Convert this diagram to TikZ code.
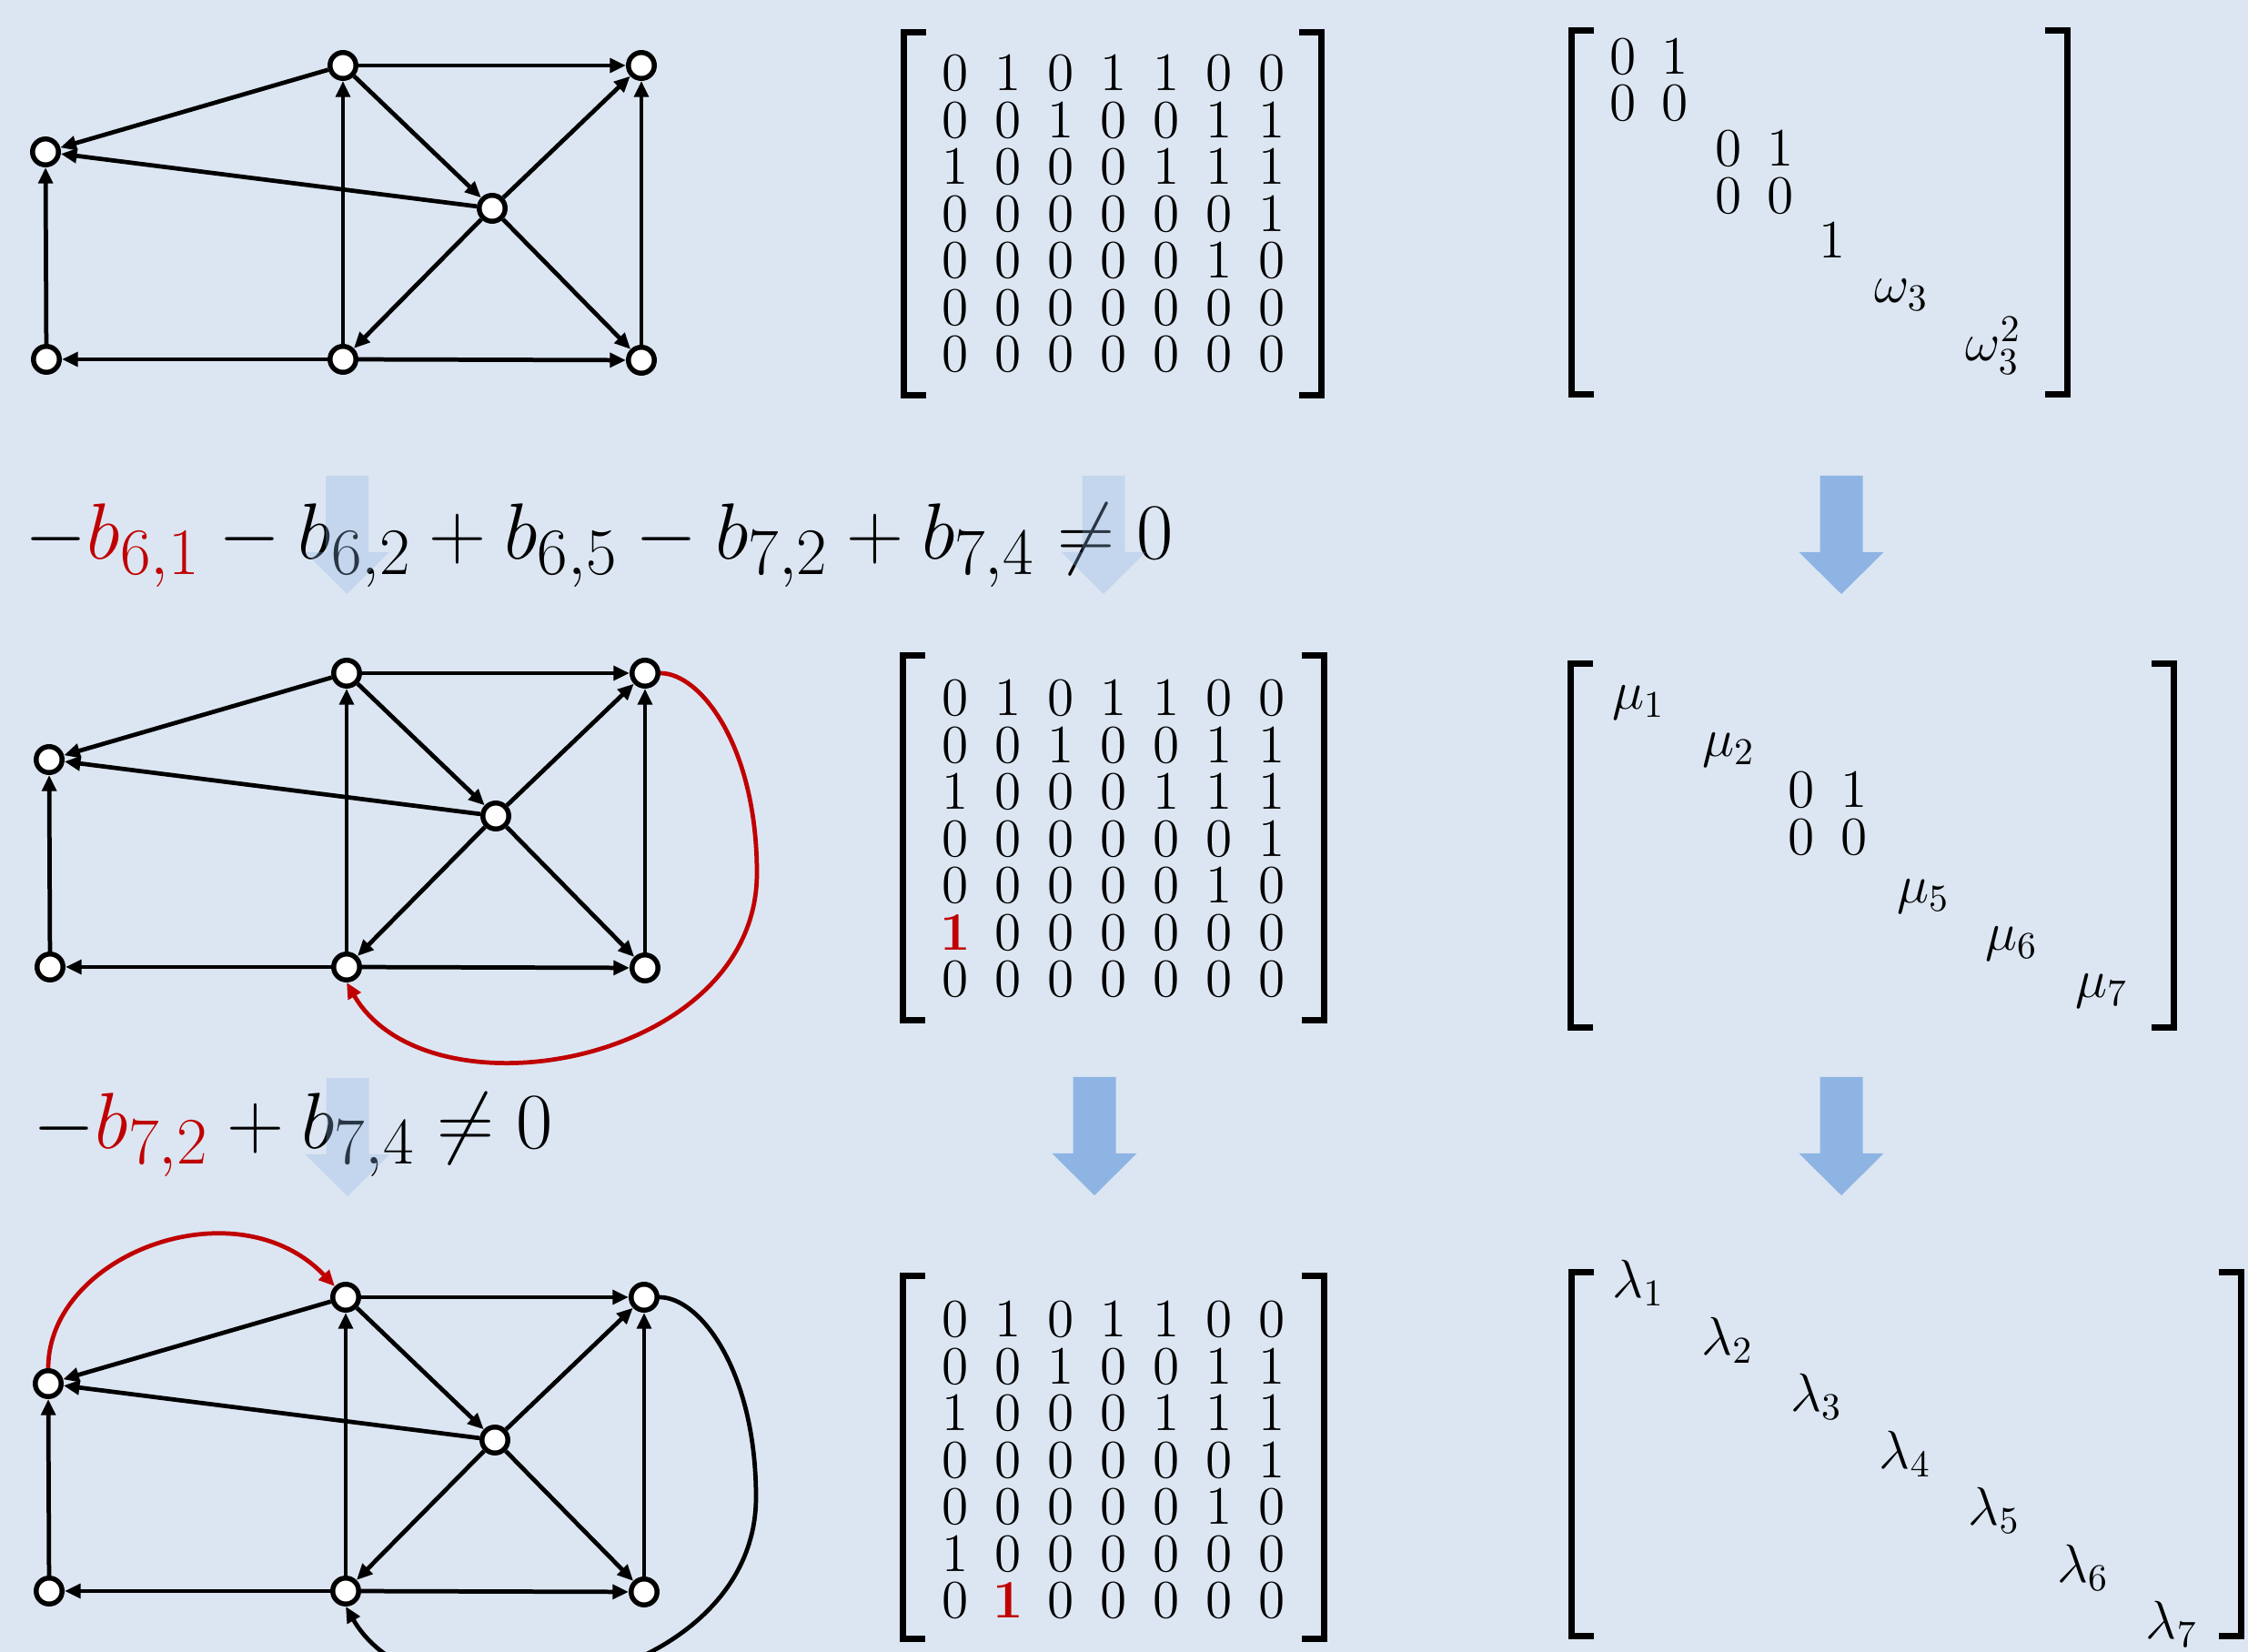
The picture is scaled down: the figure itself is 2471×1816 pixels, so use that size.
\RequirePackage{fix-cm}
\documentclass[tikz,border=0pt]{standalone}
\usepackage{amsmath}
\usepackage{tikz}
\usetikzlibrary{arrows.meta}
\definecolor{paleblue}{HTML}{DCE6F2}
\definecolor{stepblue}{HTML}{8EB4E3}
\definecolor{darkred}{HTML}{C00000}
\newcommand{\rone}{{\color{darkred}\mathbf{1}}}
% square brackets: outer left x, outer right x, top y, bottom y
\newcommand{\brak}[4]{%
  \draw[brk] (#1+28,#3+3.75) -- (#1+3.75,#3+3.75) -- (#1+3.75,#4-3.75) -- (#1+28,#4-3.75);
  \draw[brk] (#2-28,#3+3.75) -- (#2-3.75,#3+3.75) -- (#2-3.75,#4-3.75) -- (#2-28,#4-3.75);}
% block arrow: centre x, top y
\newcommand{\bigarrow}[3][]{%
  \fill[stepblue,#1] (#2-23.5,#3) -- (#2+23.5,#3) -- (#2+23.5,#3+84) -- (#2+46.5,#3+84)
    -- (#2,#3+130) -- (#2-46.5,#3+84) -- (#2-23.5,#3+84) -- cycle;}

\begin{document}
\begin{tikzpicture}[x=0.01cm,y=-0.01cm,
    vtx/.style={circle,draw,fill=white,line width=1.55pt,minimum size=0.285cm,inner sep=0pt},
    diredge/.style={-{Triangle[length=5pt,width=4.4pt]},line width=1.35pt},
    brk/.style={line width=2.1pt},
    ent/.style={inner sep=0pt,anchor=base,font=\fontsize{16.9}{20}\selectfont},
    eqn/.style={inner sep=0pt,anchor=base west,font=\fontsize{24.88}{30}\selectfont}]
  \useasboundingbox (0,0) rectangle (2471,1816);
  \fill[paleblue] (0,0) rectangle (2471,1816);
  \clip (0,0) rectangle (2471,1816);

  % the three graphs
  \foreach \g/\gx/\gy in {1/377/72,2/381/740,3/380/1426} {
    \begin{scope}[shift={(\gx,\gy)}]
      \node[vtx] (g\g a) at (0,0) {};
      \node[vtx] (g\g b) at (328,0) {};
      \node[vtx] (g\g c) at (-327,95) {};
      \node[vtx] (g\g d) at (164,157) {};
      \node[vtx] (g\g e) at (-326,323) {};
      \node[vtx] (g\g f) at (0,323) {};
      \node[vtx] (g\g g) at (328,324) {};
      \coordinate (g\g r) at (451,220);
    \end{scope}
    \foreach \s/\t in {a/b,a/c,a/d,d/c,d/b,d/f,d/g,f/a,g/b,e/c,f/e,f/g}
      \draw[diredge] (g\g\s) -- (g\g\t);
  }
  \draw[diredge,darkred] (g2b.east) .. controls +(44,0) and +(0,-140) .. (g2r)
    .. controls +(0,210) and +(89,154) .. (g2f.south);
  \draw[diredge] (g3b.east) .. controls +(44,0) and +(0,-140) .. (g3r)
    .. controls +(0,210) and +(89,154) .. (g3f.south);
  \draw[diredge,darkred] (g3c.north) .. controls +(0,-125) and +(-108,-113) .. (g3a.north west);

  % adjacency matrices
  \foreach \row [count=\i] in {{0,1,0,1,1,0,0},{0,0,1,0,0,1,1},{1,0,0,0,1,1,1},
      {0,0,0,0,0,0,1},{0,0,0,0,0,1,0},{0,0,0,0,0,0,0},{0,0,0,0,0,0,0}}
    \foreach \v [count=\j] in \row
      \node[ent] (adja-\i-\j) at (992+58*\j,48.5+51.5*\i) {$\v$};
  \foreach \row [count=\i] in {{0,1,0,1,1,0,0},{0,0,1,0,0,1,1},{1,0,0,0,1,1,1},
      {0,0,0,0,0,0,1},{0,0,0,0,0,1,0},{\rone,0,0,0,0,0,0},{0,0,0,0,0,0,0}}
    \foreach \v [count=\j] in \row
      \node[ent] (adjb-\i-\j) at (992+58*\j,735.5+51.5*\i) {$\v$};
  \foreach \row [count=\i] in {{0,1,0,1,1,0,0},{0,0,1,0,0,1,1},{1,0,0,0,1,1,1},
      {0,0,0,0,0,0,1},{0,0,0,0,0,1,0},{1,0,0,0,0,0,0},{0,\rone,0,0,0,0,0}}
    \foreach \v [count=\j] in \row
      \node[ent] (adjc-\i-\j) at (992+58*\j,1418.5+51.5*\i) {$\v$};
  \brak{990}{1456}{32}{438}
  \brak{989}{1459}{717}{1125}
  \brak{989}{1459}{1399}{1805}

  % Jordan forms
  \node[ent] (om-1-1) at (1784,82) {$0$};
  \node[ent] (om-1-2) at (1841,82) {$1$};
  \node[ent] (om-2-1) at (1784,133) {$0$};
  \node[ent] (om-2-2) at (1841,133) {$0$};
  \node[ent] (om-3-3) at (1900,183) {$0$};
  \node[ent] (om-3-4) at (1957,183) {$1$};
  \node[ent] (om-4-3) at (1900,235) {$0$};
  \node[ent] (om-4-4) at (1957,235) {$0$};
  \node[ent] (om-5-5) at (2014,284) {$1$};
  \node[ent] (om-6-6) at (2090,333) {$\omega_3$};
  \node[ent] (om-7-7) at (2191,397) {$\omega_3^2$};
  \brak{1724}{2276}{30}{437}

  \foreach \k/\mx/\my in {1/1801/780,2/1900/832,5/2114/993,6/2211/1045,7/2310/1097}
    \node[ent] (mu-\k-\k) at (\mx,\my) {$\mu_{\k}$};
  \node[ent] (mu-3-3) at (1980,888) {$0$};
  \node[ent] (mu-3-4) at (2038,888) {$1$};
  \node[ent] (mu-4-3) at (1980,940) {$0$};
  \node[ent] (mu-4-4) at (2038,940) {$0$};
  \brak{1723}{2393}{726}{1133}

  \foreach \k in {1,...,7}
    \node[ent] (lam-\k-\k) at (1703.3+97.7*\k,1364.5+62.5*\k) {$\lambda_{\k}$};
  \brak{1724}{2467}{1395}{1802}

  % conditions
  \node[eqn] (cond1) at (27,615) {$-{\color{darkred}b_{6,1}}-b_{6,2}+b_{6,5}-b_{7,2}+b_{7,4}\neq 0$};
  \node[eqn] (cond2) at (36,1263) {$-{\color{darkred}b_{7,2}}+b_{7,4}\neq 0$};

  % steps
  \bigarrow[opacity=0.3]{381.5}{523}
  \bigarrow[opacity=0.3]{1213}{523}
  \bigarrow{2024}{523}
  \bigarrow[opacity=0.3]{382}{1185}
  \bigarrow{1203}{1184}
  \bigarrow{2024}{1184}
\end{tikzpicture}
\end{document}
